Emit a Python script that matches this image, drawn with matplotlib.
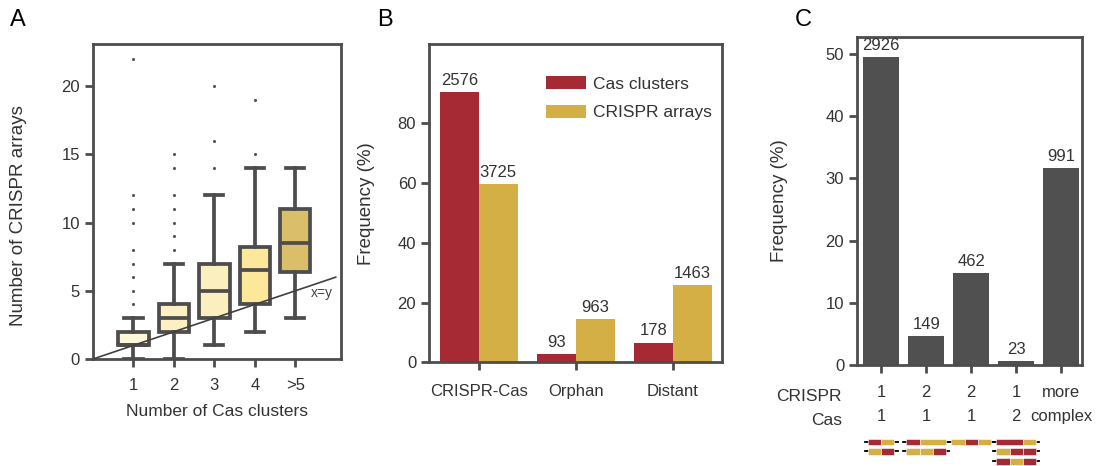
import numpy as np
import matplotlib.pyplot as plt
from matplotlib.patches import Rectangle

plt.rcParams['font.family'] = ['Liberation Sans', 'DejaVu Sans']
plt.rcParams['text.color'] = '#333333'
plt.rcParams['axes.labelcolor'] = '#333333'
plt.rcParams['xtick.color'] = '#4d4d4d'
plt.rcParams['ytick.color'] = '#4d4d4d'
plt.rcParams['xtick.labelcolor'] = '#333333'
plt.rcParams['ytick.labelcolor'] = '#333333'

# --- Panel A: boxplot stats
a_labels = ['1', '2', '3', '4', '>5']
a_q1 = [1, 2, 3, 4, 6.4]
a_med = [1, 3, 5, 6.5, 8.5]
a_q3 = [2, 4, 7, 8.25, 11]
a_lo = [0, 0, 1, 2, 3]
a_hi = [3, 7, 12, 14, 14]
a_fliers = [
    [4, 5, 6, 7, 8, 10, 11, 12, 22],
    [8, 9, 10, 11, 12, 14, 15],
    [14, 16, 20],
    [15, 19],
    [],
]
a_colors = ['#fdf6d8', '#fcefc4', '#fcefbf', '#fde79a', '#dbbe6a']

# --- Panel B
b_groups = ['CRISPR-Cas', 'Orphan', 'Distant']
b_cas = [90.4, 2.8, 6.6]
b_crispr = [59.6, 14.5, 25.9]
b_cas_n = ['2576', '93', '178']
b_crispr_n = ['3725', '963', '1463']

# --- Panel C
c_labels = ['1\n1', '2\n1', '2\n1', '1\n2', 'more\ncomplex']
c_freq = [49.5, 4.7, 14.8, 0.6, 31.7]
c_n = ['2926', '149', '462', '23', '991']
# little cartoons under panel C: rows of (colour, length) blocks
c_glyphs = [
    [[('r', 1), ('y', 1)], [('y', 1), ('r', 1)]],
    [[('r', 1), ('y', 2)], [('y', 1), ('y', 1), ('r', 1)]],
    [[('y', 1), ('r', 1), ('y', 1)]],
    [[('r', 2), ('y', 1)], [('y', 1), ('r', 1), ('r', 1)], [('r', 1), ('y', 1), ('r', 1)]],
]

RED = '#a52a33'
YEL = '#d4af45'
DARK = '#505050'
EDGE = '#4d4d4d'
FS = 12
YLFS = 13.5

fig = plt.figure(figsize=(11.02, 4.66), dpi=100)
axA = fig.add_axes([0.0844, 0.2296, 0.225, 0.676])
axB = fig.add_axes([0.3896, 0.2225, 0.2653, 0.683])
axC = fig.add_axes([0.778, 0.2167, 0.2042, 0.7045])


def style(ax):
    for s in ax.spines.values():
        s.set_color(EDGE)
        s.set_linewidth(2)
    ax.tick_params(direction='out', length=6, width=2, labelsize=FS)


# ---------- A
stats = []
for i in range(5):
    stats.append(dict(q1=a_q1[i], med=a_med[i], q3=a_q3[i], whislo=a_lo[i],
                      whishi=a_hi[i], fliers=a_fliers[i]))
pos = np.arange(1, 6)
lw = 2.7
bp = axA.bxp(stats, positions=pos, widths=0.75, capwidths=0.45, patch_artist=True,
             boxprops=dict(edgecolor=EDGE, linewidth=lw),
             medianprops=dict(color=EDGE, linewidth=lw),
             whiskerprops=dict(color=EDGE, linewidth=lw),
             capprops=dict(color=EDGE, linewidth=lw),
             flierprops=dict(marker='.', markersize=2.5, markerfacecolor='#555555',
                             markeredgecolor='#555555'))
for patch, col in zip(bp['boxes'], a_colors):
    patch.set_facecolor(col)
axA.plot([0, 6], [0, 6], color='#404040', lw=1.2, zorder=5)
axA.text(5.65, 4.85, 'x=y', fontsize=10, va='center', ha='center', color='#444444')
axA.set_xlim(0, 6.13)
axA.set_ylim(0, 23.1)
axA.set_xticks(pos)
axA.set_xticklabels(a_labels)
axA.set_yticks([0, 5, 10, 15, 20])
style(axA)
axA.tick_params(axis='x', pad=7.5)
axA.set_xlabel('Number of Cas clusters', fontsize=12.5)
axA.set_ylabel('Number of CRISPR arrays', fontsize=YLFS)
axA.yaxis.set_label_coords(-0.266, 0.454)
axA.xaxis.set_label_coords(0.5, -0.142)

# ---------- B
xb = np.arange(len(b_groups))
bw = 0.4
r1 = axB.bar(xb - bw / 2, b_cas, bw, color=RED, label='Cas clusters')
r2 = axB.bar(xb + bw / 2, b_crispr, bw, color=YEL, label='CRISPR arrays')
axB.bar_label(r1, labels=b_cas_n, padding=3, fontsize=FS)
axB.bar_label(r2, labels=b_crispr_n, padding=3, fontsize=FS)
axB.set_xlim(-0.51, 2.505)
axB.set_ylim(0, 106.5)
axB.set_xticks(xb)
axB.set_xticklabels(b_groups)
axB.set_yticks([0, 20, 40, 60, 80])
style(axB)
axB.tick_params(axis='x', pad=9.5)
axB.set_ylabel('Frequency (%)', fontsize=YLFS)
axB.yaxis.set_label_coords(-0.186, 0.5)
axB.legend(loc='upper right', bbox_to_anchor=(1.02, 0.95), frameon=False, fontsize=12.5,
           handlelength=2.3, handleheight=0.85, handletextpad=0.4, labelspacing=0.75)

# ---------- C
xc = np.arange(len(c_freq))
rc = axC.bar(xc, c_freq, 0.79, color=DARK)
axC.bar_label(rc, labels=c_n, padding=3, fontsize=FS)
axC.set_xlim(-0.53, 4.47)
axC.set_ylim(0, 52.8)
axC.set_xticks(xc)
axC.set_xticklabels(c_labels, linespacing=1.7)
axC.set_yticks([0, 10, 20, 30, 40, 50])
style(axC)
axC.tick_params(axis='x', pad=8.5)
axC.set_ylabel('Frequency (%)', fontsize=YLFS)
axC.yaxis.set_label_coords(-0.308, 0.5)
axC.text(-0.069, -0.095, 'CRISPR', transform=axC.transAxes, ha='right', va='center', fontsize=12.5)
axC.text(-0.069, -0.17, 'Cas', transform=axC.transAxes, ha='right', va='center', fontsize=12.5)

tr = axC.get_xaxis_transform()
blk = 0.295
row_y = [-0.2345, -0.263, -0.2935]
bh = 0.0204
cmap = {'r': RED, 'y': YEL}
for i, rows in enumerate(c_glyphs):
    for j, row in enumerate(rows):
        total = sum(n for _, n in row) * blk
        x0 = xc[i] - total / 2
        y = row_y[j]
        axC.plot([x0 - 0.07, x0 + total + 0.07], [y, y], color='black', lw=1.3,
                 transform=tr, clip_on=False, zorder=2)
        for c, n in row:
            axC.add_patch(Rectangle((x0, y - bh / 2), n * blk, bh, facecolor=cmap[c],
                                    edgecolor='white', lw=0.4, transform=tr,
                                    clip_on=False, zorder=3))
            x0 += n * blk

# panel letters
fig.text(17.5 / 1102, 1 - 20 / 466, 'A', fontsize=17, ha='center', va='center', color='black')
fig.text(385 / 1102, 1 - 20 / 466, 'B', fontsize=17, ha='center', va='center', color='black')
fig.text(803 / 1102, 1 - 20 / 466, 'C', fontsize=17, ha='center', va='center', color='black')

fig.savefig('out.png', dpi=100)
